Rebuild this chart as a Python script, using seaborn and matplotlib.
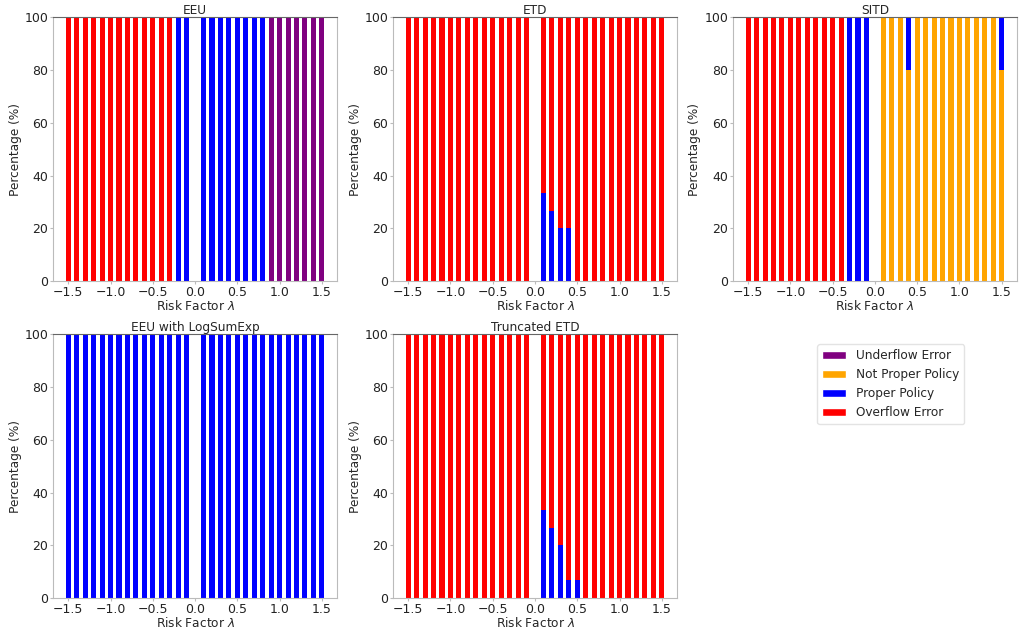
import numpy as np
import pandas as pd
import matplotlib
matplotlib.use("Agg")
import matplotlib.pyplot as plt
from matplotlib.patches import Patch
import seaborn as sns

# ---- data ----
lambdas = [round(-1.5 + 0.1 * i, 1) for i in range(15)] + [round(0.1 + 0.1 * i, 1) for i in range(15)]

titles = ["EEU", "ETD", "SITD", "EEU with LogSumExp", "Truncated ETD"]

# percentages per lambda (order as lambdas)
eeu_overflow   = [100]*13 + [0]*2 + [0]*8 + [0]*7
eeu_proper     = [0]*13 + [100]*2 + [100]*8 + [0]*7
eeu_notproper  = [0]*30
eeu_underflow  = [0]*13 + [0]*2 + [0]*8 + [100]*7

etd_proper     = [0]*15 + [33.3, 26.7, 20, 20] + [0]*11
etd_overflow   = [100]*15 + [66.7, 73.3, 80, 80] + [100]*11
etd_notproper  = [0]*30
etd_underflow  = [0]*30

sitd_overflow  = [100]*12 + [0]*3 + [0]*15
sitd_proper    = [0]*12 + [100]*3 + [0, 0, 0, 20] + [0]*10 + [20]
sitd_notproper = [0]*15 + [100, 100, 100, 80] + [100]*10 + [80]
sitd_underflow = [0]*30

lse_proper     = [100]*30
lse_overflow   = [0]*30
lse_notproper  = [0]*30
lse_underflow  = [0]*30

tetd_proper    = [0]*15 + [33.3, 26.7, 20, 6.7, 6.7] + [0]*10
tetd_overflow  = [100]*15 + [66.7, 73.3, 80, 93.3, 93.3] + [100]*10
tetd_notproper = [0]*30
tetd_underflow = [0]*30

categories = ["Underflow Error", "Not Proper Policy", "Proper Policy", "Overflow Error"]
colors = {"Underflow Error": "purple", "Not Proper Policy": "orange",
          "Proper Policy": "blue", "Overflow Error": "red"}
# stacking order bottom -> top
stack_order = ["Not Proper Policy", "Proper Policy", "Overflow Error", "Underflow Error"]

panels = [
    {"Not Proper Policy": eeu_notproper, "Proper Policy": eeu_proper,
     "Overflow Error": eeu_overflow, "Underflow Error": eeu_underflow},
    {"Not Proper Policy": etd_notproper, "Proper Policy": etd_proper,
     "Overflow Error": etd_overflow, "Underflow Error": etd_underflow},
    {"Not Proper Policy": sitd_notproper, "Proper Policy": sitd_proper,
     "Overflow Error": sitd_overflow, "Underflow Error": sitd_underflow},
    {"Not Proper Policy": lse_notproper, "Proper Policy": lse_proper,
     "Overflow Error": lse_overflow, "Underflow Error": lse_underflow},
    {"Not Proper Policy": tetd_notproper, "Proper Policy": tetd_proper,
     "Overflow Error": tetd_overflow, "Underflow Error": tetd_underflow},
]

# ---- style ----
sns.set_style("ticks")
plt.rcParams["font.family"] = ["DejaVu Sans"]
plt.rcParams["axes.edgecolor"] = "#bbbbbb"
plt.rcParams["xtick.color"] = "#bbbbbb"
plt.rcParams["ytick.color"] = "#bbbbbb"
plt.rcParams["xtick.labelcolor"] = "#222222"
plt.rcParams["ytick.labelcolor"] = "#222222"

fig, axes = plt.subplots(2, 3, figsize=(10.21, 6.35), dpi=100)
fig.subplots_adjust(left=0.052, right=0.996, top=0.973, bottom=0.058,
                    wspace=0.197, hspace=0.2)

for k, (ax, title, panel) in enumerate(zip(axes.flat, titles, panels)):
    cum = np.zeros(len(lambdas))
    cums = []
    for cat in stack_order:
        cum = cum + np.array(panel[cat], dtype=float)
        cums.append((cat, cum.copy()))
    # draw from top of stack downward so lower segments overlay
    for cat, c in reversed(cums):
        sns.barplot(x=lambdas, y=c, native_scale=True, width=0.6,
                    color=colors[cat], saturation=1, errorbar=None,
                    linewidth=0, edgecolor="none", ax=ax)
    ax.set_ylim(0, 100)
    ax.set_xlim(-1.68, 1.68)
    ax.set_xticks([-1.5, -1.0, -0.5, 0.0, 0.5, 1.0, 1.5])
    ax.set_yticks([0, 20, 40, 60, 80, 100])
    ax.set_title(title, fontsize=8.7, pad=2)
    ax.set_xlabel(r"Risk Factor $\lambda$", fontsize=8.7, labelpad=0)
    ax.set_ylabel("Percentage (%)", fontsize=8.7, labelpad=2)
    ax.tick_params(labelsize=9, length=2, pad=1.5)
    ax.spines["top"].set_color("#666666")

axes[1, 2].axis("off")
handles = [Patch(facecolor=colors[c], label=c) for c in categories]
axes[1, 2].legend(handles=handles, loc="center", bbox_to_anchor=(0.555, 0.81),
                  fontsize=8.7, frameon=True, edgecolor="#dddddd")

fig.savefig("out.png", dpi=100)
